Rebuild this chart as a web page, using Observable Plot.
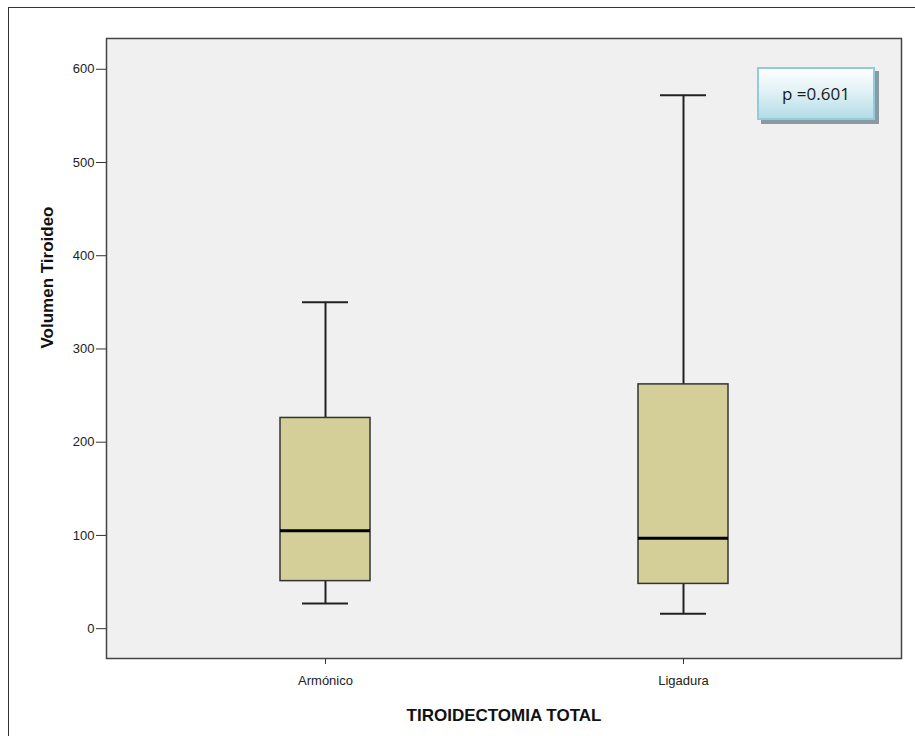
<!DOCTYPE html>
<html>
<head>
<meta charset="utf-8">
<script src="https://cdn.jsdelivr.net/npm/d3@7"></script>
<script src="https://cdn.jsdelivr.net/npm/@observablehq/plot@0.6"></script>
<style>
  html, body { margin: 0; padding: 0; background: white; }
  #wrap { position: relative; width: 915px; height: 736px; overflow: hidden; }
  #outer { position: absolute; left: 8px; top: 7px; width: 920px; height: 740px;
           border-left: 1.5px solid #333; border-top: 1.5px solid #333; pointer-events: none; }
  #pbox { position: absolute; left: 757px; top: 67px; width: 114px; height: 49px;
          border: 2px solid #92cbd9;
          background: linear-gradient(to bottom, #ffffff 0%, #e2f2f6 45%, #b3dde7 100%);
          box-shadow: 4px 4px 0 #8a9aa2;
          font-family: "Open Sans", "Liberation Sans", sans-serif; font-size: 17px; color: #1a1a1a;
          display: flex; align-items: center; justify-content: center; }
</style>
</head>
<body>
<div id="wrap">
  <div id="chart"></div>
  <div id="outer"></div>
  <div id="pbox"></div>
</div>
<script>
const groups = ["Armónico", "Ligadura"];
const lowWhisker = [27, 16];
const q1 = [51, 48];
const median = [105, 97];
const q3 = [226, 262];
const highWhisker = [350, 572];
const yTicks = [0, 100, 200, 300, 400, 500, 600];
const yTitle = "Volumen Tiroideo";
const xTitle = "TIROIDECTOMIA TOTAL";
const pLabel = "p =0.601";

const rows = groups.map((g, i) => ({
  g, lo: lowWhisker[i], q1: q1[i], med: median[i], q3: q3[i], hi: highWhisker[i]
}));

const chart = Plot.plot({
  width: 915,
  height: 736,
  marginLeft: 106,
  marginRight: 14,
  marginTop: 38,
  marginBottom: 78,
  style: { background: "transparent", fontFamily: "'Liberation Sans', Arial, sans-serif", fontSize: "13px", color: "#222" },
  x: { domain: groups, paddingInner: 0.75, paddingOuter: 0.484, label: null },
  y: { domain: [-32, 633], label: null },
  marks: [
    Plot.frame({ fill: "#f0f0f0", stroke: null }),
    Plot.ruleX(rows, { x: "g", y1: "q3", y2: "hi", stroke: "#222", strokeWidth: 2 }),
    Plot.ruleX(rows, { x: "g", y1: "lo", y2: "q1", stroke: "#222", strokeWidth: 2 }),
    Plot.tickY(rows, { x: "g", y: "hi", stroke: "#222", strokeWidth: 2, inset: 22 }),
    Plot.tickY(rows, { x: "g", y: "lo", stroke: "#222", strokeWidth: 2, inset: 22 }),
    Plot.barY(rows, { x: "g", y1: "q1", y2: "q3", fill: "#d4cf98", stroke: "#333", strokeWidth: 1.5 }),
    Plot.tickY(rows, { x: "g", y: "med", stroke: "#000", strokeWidth: 3 }),
    Plot.frame({ stroke: "#444", strokeWidth: 1.5 }),
    Plot.axisY({ ticks: yTicks, tickSize: 10, tickPadding: 2, label: null, stroke: "#333", fill: "#222", fontSize: 13 }),
    Plot.axisX({ tickSize: 6, tickPadding: 11, label: null, stroke: "#333", fill: "#222", fontSize: 13 }),
    Plot.text([yTitle], { frameAnchor: "left", dx: -59, rotate: -90, text: d => d,
      fontSize: 17, fontWeight: "bold", fill: "#111" }),
    Plot.text([xTitle], { frameAnchor: "bottom", dy: 62, text: d => d,
      fontSize: 17, fontWeight: "bold", fill: "#111" })
  ]
});
document.getElementById("chart").appendChild(chart);
document.getElementById("pbox").textContent = pLabel;
</script>
</body>
</html>
